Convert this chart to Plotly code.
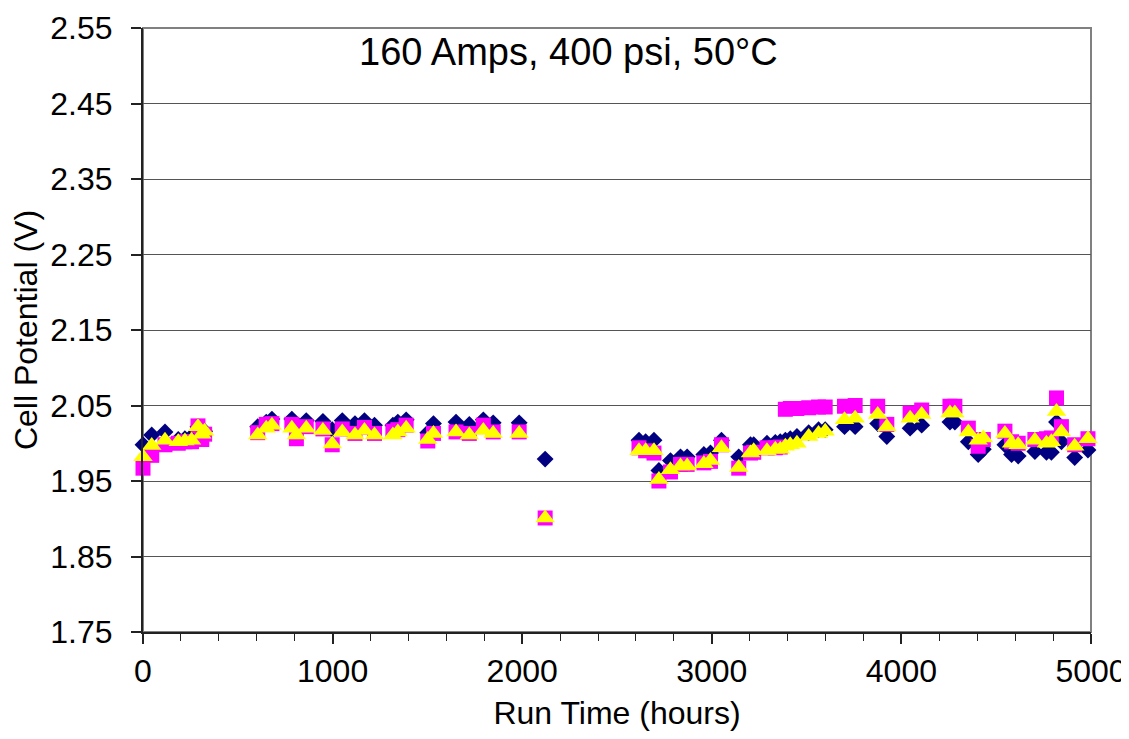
import plotly.graph_objects as go

run_hours = [0, 46, 116, 186, 221, 256, 290, 310, 325,
             605, 650, 680, 785, 809, 861, 949, 998, 1051, 1118, 1168, 1221,
             1318, 1344, 1388, 1502, 1532, 1651, 1721, 1795, 1847, 1984, 2121,
             2616, 2651, 2695, 2721, 2782, 2835, 2870, 2958, 2993, 3051,
             3142, 3204, 3221, 3291, 3335, 3361, 3388, 3414, 3449, 3511, 3563, 3598,
             3700, 3756, 3875, 3923, 4046, 4107, 4256, 4282,
             4353, 4405, 4432, 4546, 4581, 4616, 4704, 4765, 4791, 4818, 4844, 4914, 4984]

cell_a = [1.998, 2.011, 2.015, 2.005, 2.006, 2.009, 2.022, 2.012, 2.016,
          2.022, 2.028, 2.032, 2.032, 2.018, 2.030, 2.029, 2.018, 2.030, 2.026, 2.030, 2.024,
          2.024, 2.028, 2.031, 2.014, 2.026, 2.028, 2.025, 2.031, 2.027, 2.027, 1.979,
          2.004, 2.002, 2.004, 1.964, 1.977, 1.982, 1.982, 1.985, 1.987, 2.004,
          1.982, 1.998, 1.998, 2.000, 2.001, 2.002, 2.004, 2.006, 2.009, 2.014, 2.018, 2.018,
          2.022, 2.022, 2.026, 2.009, 2.020, 2.024, 2.028, 2.028,
          2.002, 1.985, 1.992, 1.998, 1.985, 1.983, 1.989, 1.988, 1.988, 2.028, 2.002, 1.981, 1.991]

cell_b = [1.967, 1.984, 1.998, 2.000, 2.002, 2.002, 2.023, 2.005, 2.012,
          2.014, 2.025, 2.026, 2.025, 2.006, 2.022, 2.019, 1.998, 2.019, 2.013, 2.021, 2.013,
          2.016, 2.018, 2.024, 2.003, 2.013, 2.015, 2.013, 2.024, 2.015, 2.015, 1.901,
          1.994, 1.990, 1.987, 1.950, 1.962, 1.972, 1.972, 1.974, 1.976, 1.998,
          1.967, 1.987, 1.988, 1.994, 1.994, 1.995, 2.045, 2.046, 2.046, 2.047, 2.048, 2.048,
          2.049, 2.050, 2.049, 2.025, 2.040, 2.044, 2.049, 2.049,
          2.020, 1.996, 2.005, 2.016, 2.002, 2.000, 2.005, 2.006, 2.007, 2.060, 2.022, 1.998, 2.006]

cell_c = [1.982, 1.997, 2.004, 2.002, 2.003, 2.004, 2.022, 2.012, 2.016,
          2.011, 2.020, 2.024, 2.020, 2.011, 2.020, 2.017, 1.999, 2.015, 2.011, 2.017, 2.011,
          2.011, 2.015, 2.020, 2.005, 2.013, 2.015, 2.011, 2.017, 2.013, 2.013, 1.901,
          1.990, 1.990, 1.990, 1.952, 1.965, 1.970, 1.970, 1.973, 1.977, 1.994,
          1.968, 1.987, 1.990, 1.990, 1.992, 1.992, 1.996, 1.998, 2.000, 2.009, 2.013, 2.016,
          2.031, 2.033, 2.038, 2.022, 2.033, 2.038, 2.040, 2.040,
          2.015, 2.004, 2.007, 2.013, 2.000, 1.998, 2.004, 2.000, 2.002, 2.042, 2.015, 1.996, 2.006]

y_ticks = [1.75, 1.85, 1.95, 2.05, 2.15, 2.25, 2.35, 2.45, 2.55]
x_ticks = [0, 1000, 2000, 3000, 4000, 5000]

FONT = "Liberation Sans, Arial, sans-serif"

fig = go.Figure()
fig.add_trace(go.Scatter(x=run_hours, y=cell_a, mode="markers", cliponaxis=False,
                         marker=dict(symbol="diamond", size=13, color="#000080",
                                     line=dict(width=0)), showlegend=False))
fig.add_trace(go.Scatter(x=run_hours, y=cell_b, mode="markers", cliponaxis=False,
                         marker=dict(symbol="square", size=15, color="#FF00FF",
                                     line=dict(width=0)), showlegend=False))
fig.add_trace(go.Scatter(x=run_hours, y=cell_c, mode="markers", cliponaxis=False,
                         marker=dict(symbol="triangle-up", size=17, color="#FFFF00",
                                     line=dict(width=0)), showlegend=False))

fig.update_layout(
    width=1121, height=723,
    margin=dict(l=135, r=38, t=20, b=99),
    paper_bgcolor="white", plot_bgcolor="white",
    font=dict(family=FONT, color="black", size=32),
    shapes=[dict(type="rect", xref="paper", yref="paper", x0=0, x1=1, y0=0, y1=1,
                 line=dict(color="#808080", width=2), layer="below")],
    annotations=[dict(text="160 Amps, 400 psi, 50°C", xref="paper", yref="paper",
                      x=0.449, y=0.961, xanchor="center", yanchor="middle",
                      showarrow=False, font=dict(size=38, family=FONT))],
)
fig.update_xaxes(range=[0, 5000], tickvals=x_ticks, ticktext=[str(v) for v in x_ticks],
                 automargin=False, ticklabeloverflow="allow",
                 showgrid=False, zeroline=False, showline=True, linecolor="#222222", linewidth=2,
                 ticks="outside", ticklen=10, tickwidth=1.5, tickcolor="#222222",
                 minor=dict(dtick=200, tick0=0, ticks="outside", ticklen=7, tickwidth=1,
                            tickcolor="#222222", showgrid=False),
                 tickfont=dict(size=32),
                 title=dict(text="Run Time (hours)", font=dict(size=32), standoff=14))
fig.update_yaxes(range=[1.75, 2.55], tickvals=y_ticks, ticktext=[f"{v:.2f}" for v in y_ticks],
                 automargin=False, ticklabeloverflow="allow",
                 showgrid=True, gridcolor="#555555", gridwidth=1, zeroline=False,
                 showline=True, linecolor="#222222", linewidth=2,
                 ticks="outside", ticklen=10, tickwidth=1.5, tickcolor="#222222",
                 tickfont=dict(size=32), ticklabelstandoff=12,
                 title=dict(text="Cell Potential (V)", font=dict(size=32), standoff=4))

fig.write_html("out.html")
